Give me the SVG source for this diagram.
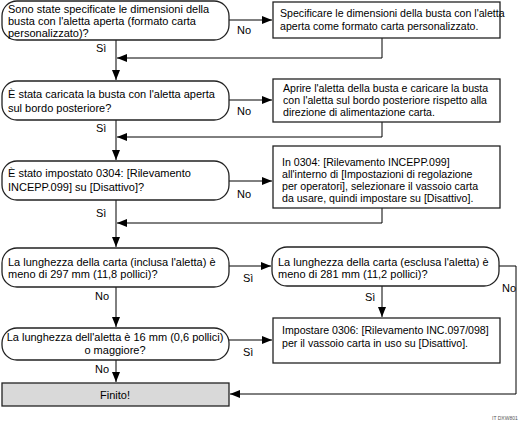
<svg xmlns="http://www.w3.org/2000/svg" width="519" height="424" viewBox="0 0 519 424">
<style>
text{font-family:"Liberation Sans",Arial,sans-serif;font-size:11px;fill:#000}
.bt{font-size:10.6px}
.dec{fill:#fff;stroke:#222;stroke-width:1.3}
.box{fill:#fff;stroke:#222;stroke-width:1.3}
.end{fill:#d9d9d9;stroke:#222;stroke-width:1.3}
.ln{fill:none;stroke:#000;stroke-width:1}
.c{text-anchor:middle}
.id{font-size:5px;fill:#555}
</style>
<defs>
<marker id="ah" viewBox="0 0 10 8" refX="10" refY="4" markerWidth="10" markerHeight="8" markerUnits="userSpaceOnUse" orient="auto">
<path d="M0,0 L10,4 L0,8 Z" fill="#000"/>
</marker>
</defs>
<g id="connectors">
<path class="ln" d="M229,20 H272" marker-end="url(#ah)"/>
<path class="ln" d="M382,38 V58 H117" marker-end="url(#ah)"/>
<path class="ln" d="M116,40 V80" marker-end="url(#ah)"/>
<path class="ln" d="M229,100 H272" marker-end="url(#ah)"/>
<path class="ln" d="M382,122 V137 H117" marker-end="url(#ah)"/>
<path class="ln" d="M116,120 V160" marker-end="url(#ah)"/>
<path class="ln" d="M229,181 H272" marker-end="url(#ah)"/>
<path class="ln" d="M382,208 V223 H117" marker-end="url(#ah)"/>
<path class="ln" d="M116,200 V247" marker-end="url(#ah)"/>
<path class="ln" d="M229,266 H271" marker-end="url(#ah)"/>
<path class="ln" d="M116,287 V327" marker-end="url(#ah)"/>
<path class="ln" d="M382,286 V317" marker-end="url(#ah)"/>
<path class="ln" d="M229,340 H272" marker-end="url(#ah)"/>
<path class="ln" d="M116,360 V382" marker-end="url(#ah)"/>
<path class="ln" d="M499,266 H516 V394 H230" marker-end="url(#ah)"/>
<text x="237" y="34">No</text>
<text x="96" y="52">Sì</text>
<text x="237" y="115">No</text>
<text x="96" y="132">Sì</text>
<text x="237" y="198">No</text>
<text x="96" y="217">Sì</text>
<text x="243" y="282">Sì</text>
<text x="95" y="300">No</text>
<text x="365" y="301">Sì</text>
<text x="502" y="292">No</text>
<text x="243" y="356">Sì</text>
<text x="95" y="373">No</text>
</g>
<g id="d1">
<rect class="dec" x="2" y="1" width="227" height="39" rx="15"/>
<text x="8" y="13">Sono state specificate le dimensioni della</text>
<text x="8" y="25">busta con l'aletta aperta (formato carta</text>
<text x="8" y="37">personalizzato)?</text>
</g>
<g id="b1">
<rect class="box" x="273" y="2" width="227" height="36"/>
<text class="bt" x="280" y="17">Specificare le dimensioni della busta con l'aletta</text>
<text class="bt" x="280" y="30">aperta come formato carta personalizzato.</text>
</g>
<g id="d2">
<rect class="dec" x="2" y="81" width="227" height="39" rx="15"/>
<text x="8" y="98">È stata caricata la busta con l'aletta aperta</text>
<text x="8" y="112">sul bordo posteriore?</text>
</g>
<g id="b2">
<rect class="box" x="273" y="79" width="227" height="43"/>
<text class="bt" x="283" y="92">Aprire l'aletta della busta e caricare la busta</text>
<text class="bt" x="283" y="104">con l'aletta sul bordo posteriore rispetto alla</text>
<text class="bt" x="283" y="116">direzione di alimentazione carta.</text>
</g>
<g id="d3">
<rect class="dec" x="2" y="161" width="227" height="39" rx="15"/>
<text x="8" y="177">È stato impostato 0304: [Rilevamento</text>
<text x="8" y="191">INCEPP.099] su [Disattivo]?</text>
</g>
<g id="b3">
<rect class="box" x="273" y="146" width="227" height="62"/>
<text class="bt" x="282" y="166">In 0304: [Rilevamento INCEPP.099]</text>
<text class="bt" x="282" y="178">all'interno di [Impostazioni di regolazione</text>
<text class="bt" x="282" y="190">per operatori], selezionare il vassoio carta</text>
<text class="bt" x="282" y="202">da usare, quindi impostare su [Disattivo].</text>
</g>
<g id="d4">
<rect class="dec" x="2" y="248" width="227" height="39" rx="15"/>
<text x="8" y="266">La lunghezza della carta (inclusa l'aletta) è</text>
<text x="8" y="278">meno di 297 mm (11,8 pollici)?</text>
</g>
<g id="d5">
<rect class="dec" x="272" y="247" width="227" height="39" rx="15"/>
<text x="278" y="266">La lunghezza della carta (esclusa l'aletta) è</text>
<text x="278" y="278">meno di 281 mm (11,2 pollici)?</text>
</g>
<g id="d6">
<rect class="dec" x="2" y="328" width="227" height="32" rx="15"/>
<text class="c" x="115" y="341">La lunghezza dell'aletta è 16 mm (0,6 pollici)</text>
<text class="c" x="115" y="354">o maggiore?</text>
</g>
<g id="b4">
<rect class="box" x="273" y="318" width="227" height="45"/>
<text class="bt" x="282" y="334">Impostare 0306: [Rilevamento INC.097/098]</text>
<text class="bt" x="282" y="347">per il vassoio carta in uso su [Disattivo].</text>
</g>
<g id="end">
<rect class="end" x="2" y="383" width="227" height="23"/>
<text class="c" x="115" y="399">Finito!</text>
</g>
<text class="id" x="492" y="420">IT DXW801</text>
</svg>
